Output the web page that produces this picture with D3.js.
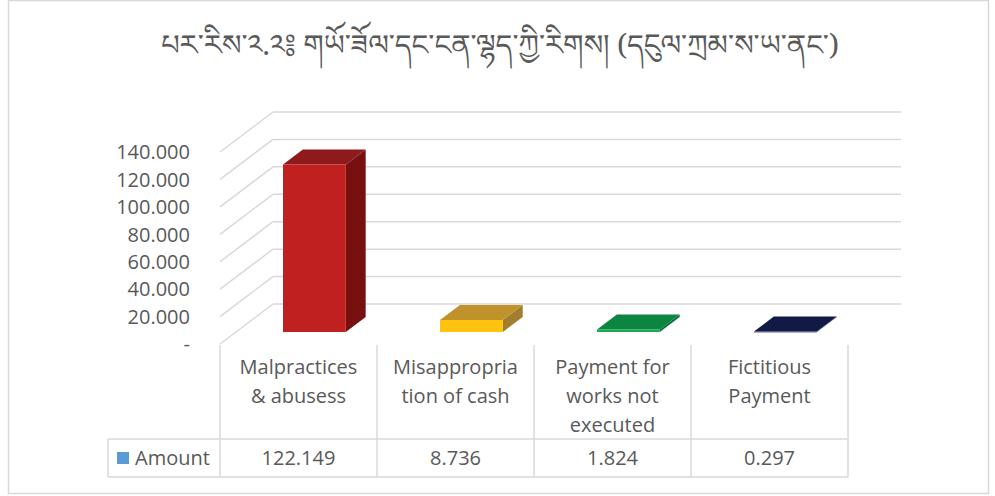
<!DOCTYPE html>
<html>
<head>
<meta charset="utf-8">
<script src="https://cdn.jsdelivr.net/npm/d3@7"></script>
<style>
  body { margin: 0; background: #fff; }
  svg { display: block; font-family: "Open Sans", "Noto Sans", sans-serif; }
</style>
</head>
<body>
<svg id="chart" width="995" height="496"></svg>
<script>
const titleText = "པར་རིས་༢.༢༔   གཡོ་ཟོལ་དང་ངན་ལྷད་ཀྱི་རིགས།  (དངུལ་ཀྲམ་ས་ཡ་ནང་)";
const categories = ["Malpractices & abusess", "Misappropriation of cash", "Payment for works not executed", "Fictitious Payment"];
const categoryLines = [["Malpractices", "& abusess"], ["Misappropria", "tion of cash"], ["Payment for", "works not", "executed"], ["Fictitious", "Payment"]];
const amounts = [122.149, 8.736, 1.824, 0.297];
const amountLabels = ["122.149", "8.736", "1.824", "0.297"];
const yTicks = [0, 20, 40, 60, 80, 100, 120, 140];
const seriesName = "Amount";

// colours per bar: front, top, side
const barColors = [
  {front: "#C0201F", top: "#8E1A1B", side: "#76110F"},
  {front: "#FFC20E", top: "#C0922C", side: "#A17D2D"},
  {front: "#1AAB50", top: "#0C8442", side: "#0A6E38"},
  {front: "#2B3563", top: "#111A45", side: "#0D1438"}
];

const svg = d3.select("#chart");
const grid = "#D9D9D9";
const textCol = "#595959";

// depth of the 3D floor (front plane -> back wall)
const depthX = 53, depthY = 40;

// front-plane scales
const x = d3.scaleBand().domain(categories).range([220, 848]).paddingInner(0).paddingOuter(0);
const y = d3.scaleLinear().domain([0, 140]).range([344, 152]);

const px = (xf, z) => xf + z * depthX;
const py = (v, z) => y(v) - z * depthY;

// outer border
svg.append("rect")
  .attr("x", 8.5).attr("y", 0.5).attr("width", 980).attr("height", 493)
  .attr("fill", "none").attr("stroke", grid).attr("stroke-width", 1.5);

// title
svg.append("text")
  .attr("x", 500).attr("y", 45)
  .attr("text-anchor", "middle")
  .attr("dominant-baseline", "middle")
  .style("font-family", "'Noto Serif Tibetan','Noto Sans Tibetan','Jomolhari','Microsoft Himalaya',sans-serif")
  .style("font-size", "29px")
  .attr("fill", textCol)
  .text(titleText);

// gridlines: back wall + left wall
const gridG = svg.append("g");
yTicks.forEach(t => {
  gridG.append("line")
    .attr("x1", px(220, 1)).attr("x2", px(848, 1))
    .attr("y1", py(t, 1)).attr("y2", py(t, 1))
    .attr("stroke", grid).attr("stroke-width", 1.5);
  gridG.append("line")
    .attr("x1", px(220, 1)).attr("x2", px(220, 0))
    .attr("y1", py(t, 1)).attr("y2", py(t, 0))
    .attr("stroke", grid).attr("stroke-width", 1.5);
});

// y tick labels
svg.append("g").selectAll("text")
  .data(yTicks)
  .enter()
  .append("text")
  .attr("x", 190)
  .attr("y", d => y(d) + 2)
  .attr("text-anchor", "end")
  .attr("dominant-baseline", "middle")
  .style("font-size", "20px")
  .attr("fill", textCol)
  .text(d => d === 0 ? "-" : d3.format(".3f")(d));

// bars
const z0 = 0.3, z1 = 0.675;
const bars = svg.append("g");
amounts.forEach((v, i) => {
  const c = categories[i];
  const bw = x.bandwidth() * 0.4;
  const xl = x(c) + (x.bandwidth() - bw) / 2;
  const xr = xl + bw;
  const col = barColors[i];
  const pts = a => a.map(p => p.join(",")).join(" ");
  // side face
  bars.append("polygon")
    .attr("points", pts([[px(xr, z0), py(0, z0)], [px(xr, z1), py(0, z1)], [px(xr, z1), py(v, z1)], [px(xr, z0), py(v, z0)]]))
    .attr("fill", col.side);
  // top face
  bars.append("polygon")
    .attr("points", pts([[px(xl, z0), py(v, z0)], [px(xr, z0), py(v, z0)], [px(xr, z1), py(v, z1)], [px(xl, z1), py(v, z1)]]))
    .attr("fill", col.top);
  // front face
  bars.append("rect")
    .attr("x", px(xl, z0))
    .attr("y", py(v, z0))
    .attr("width", bw)
    .attr("height", Math.max(py(0, z0) - py(v, z0), 0.8))
    .attr("fill", col.front);
});

// data table
const table = svg.append("g");
const colEdges = categories.map(c => x(c)).concat([848]);
colEdges.forEach(cx => {
  table.append("line")
    .attr("x1", cx).attr("x2", cx)
    .attr("y1", 345).attr("y2", 477)
    .attr("stroke", grid).attr("stroke-width", 1.5);
});
[439, 477].forEach(ly => {
  table.append("line")
    .attr("x1", 108).attr("x2", 848)
    .attr("y1", ly).attr("y2", ly)
    .attr("stroke", grid).attr("stroke-width", 1.5);
});
table.append("line")
  .attr("x1", 108).attr("x2", 108)
  .attr("y1", 439).attr("y2", 477)
  .attr("stroke", grid).attr("stroke-width", 1.5);

// category labels
categories.forEach((c, i) => {
  const cx = x(c) + x.bandwidth() / 2;
  categoryLines[i].forEach((line, j) => {
    table.append("text")
      .attr("x", cx)
      .attr("y", 369 + j * 29)
      .attr("text-anchor", "middle")
      .attr("dominant-baseline", "middle")
      .style("font-size", "20px")
      .attr("fill", textCol)
      .text(line);
  });
  table.append("text")
    .attr("x", cx)
    .attr("y", 460)
    .attr("text-anchor", "middle")
    .attr("dominant-baseline", "middle")
    .style("font-size", "20px")
    .attr("fill", textCol)
    .text(amountLabels[i]);
});

// legend key
table.append("rect")
  .attr("x", 117).attr("y", 452).attr("width", 12).attr("height", 12)
  .attr("fill", "#5B9BD5");
table.append("text")
  .attr("x", 135).attr("y", 460)
  .attr("dominant-baseline", "middle")
  .style("font-size", "20px")
  .attr("fill", textCol)
  .text(seriesName);
</script>
</body>
</html>
